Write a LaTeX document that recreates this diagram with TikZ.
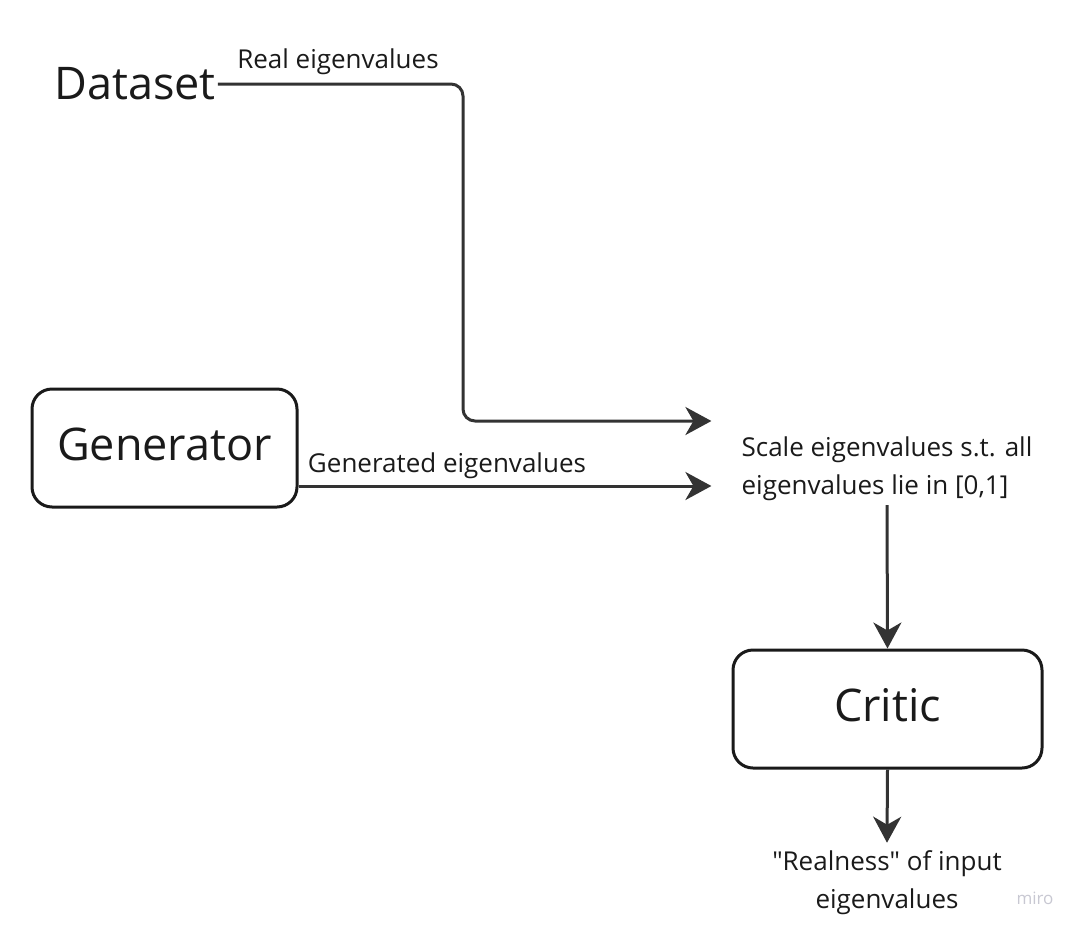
\documentclass[tikz,border=0pt]{standalone}
\usepackage{fontspec}
\setmainfont{Open Sans}[Ligatures=TeXOff]
\usetikzlibrary{arrows.meta}
\definecolor{ink}{HTML}{1A1A1A}
\definecolor{wire}{HTML}{333333}
\definecolor{faint}{HTML}{C8C8D2}

\begin{document}
\begin{tikzpicture}
	[x=1pt,y=-1pt,
	 box/.style={draw=ink,line width=3pt,rounded corners=20pt,minimum width=265pt,minimum height=118pt,text=ink,text height=34pt,text depth=10pt,font=\fontsize{45}{56}\selectfont},
	 caption/.style={text=ink,font=\fontsize{26}{38}\selectfont,inner sep=0pt},
	 edge/.style={draw=wire,line width=3pt,-{Stealth[length=26pt,width=28pt,inset=8pt]}}]
	\useasboundingbox (0,0) rectangle (1076,929);

	\node[text=ink,font=\fontsize{45}{56}\selectfont,inner sep=2pt] (dataset) at (135,84) {Dataset};
	\node[box] (generator) at (164.5,448) {Generator};
	\node[caption,align=left,inner xsep=30pt,inner ysep=4pt] (scale) at (887,469) {Scale eigenvalues s.t. all\\eigenvalues lie in [0,1]};
	\node[box,minimum width=309pt] (critic) at (887.5,709) {Critic};
	\node[caption,align=center,inner ysep=8pt] (output) at (887,883) {"Realness" of input\\eigenvalues};
	\node[text=faint,font=\fontsize{17}{17}\selectfont] (miro) at (1035,898) {miro};

	\draw[edge,rounded corners=12pt] (dataset.east) -- (463,84) -- (463,421) -- (scale.west |- 0,421);
	\node[caption] (reallabel) at (338,62) {Real eigenvalues};
	\draw[edge] (generator.east |- 0,486) -- (scale.west |- 0,486);
	\node[caption] (genlabel) at (447,466) {Generated eigenvalues};
	\draw[edge] (scale.south) -- (critic.north);
	\draw[edge] (critic.south) -- (output.north);
\end{tikzpicture}
\end{document}
